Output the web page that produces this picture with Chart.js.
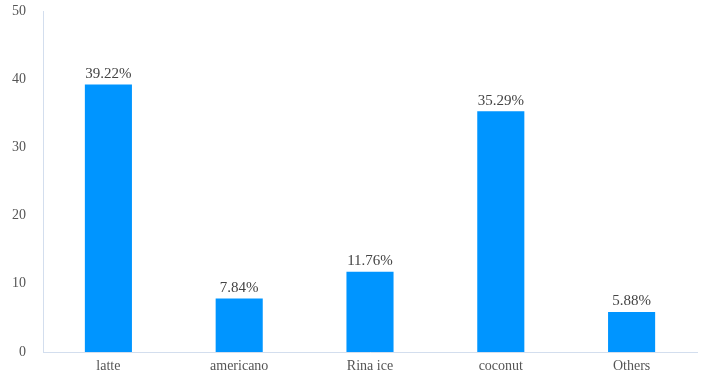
<!DOCTYPE html>
<html>
<head>
<meta charset="utf-8">
<script src="https://cdn.jsdelivr.net/npm/chart.js@4/dist/chart.umd.min.js"></script>
<style>
  html, body { margin: 0; padding: 0; background: #fff; }
  #wrap { width: 710px; height: 387px; }
</style>
</head>
<body>
<div id="wrap"><canvas id="chart"></canvas></div>
<script>
const categories = ['latte', 'americano', 'Rina ice', 'coconut', 'Others'];
const values = [39.22, 7.84, 11.76, 35.29, 5.88];
const valueLabels = ['39.22%', '7.84%', '11.76%', '35.29%', '5.88%'];
const yTicks = [0, 10, 20, 30, 40, 50];

const FONT = "'Liberation Serif', 'Times New Roman', serif";

// draw the percentage above each bar
const barLabels = {
  id: 'barLabels',
  afterDatasetsDraw(chart) {
    const ctx = chart.ctx;
    const meta = chart.getDatasetMeta(0);
    ctx.save();
    ctx.font = '15px ' + FONT;
    ctx.fillStyle = '#444';
    ctx.textAlign = 'center';
    ctx.textBaseline = 'bottom';
    meta.data.forEach((bar, i) => {
      ctx.fillText(valueLabels[i], bar.x, bar.y - 3);
    });
    ctx.restore();
  }
};

new Chart(document.getElementById('chart').getContext('2d'), {
  type: 'bar',
  data: {
    labels: categories,
    datasets: [{
      data: values,
      backgroundColor: '#0095ff',
      barPercentage: 0.36,
      categoryPercentage: 1
    }]
  },
  options: {
    responsive: true,
    maintainAspectRatio: false,
    animation: false,
    layout: { padding: { top: 11, right: 13, left: 0, bottom: 0 } },
    plugins: { legend: { display: false }, tooltip: { enabled: false } },
    scales: {
      x: {
        grid: { display: false, drawTicks: false },
        border: { display: true, color: '#d3deee', width: 1 },
        ticks: { color: '#555', font: { family: FONT, size: 14 }, padding: 6 },
        afterFit: s => { s.height = 35; }
      },
      y: {
        min: 0,
        max: 50,
        afterBuildTicks: s => { s.ticks = yTicks.map(v => ({ value: v })); },
        grid: { display: false, drawTicks: false },
        border: { display: true, color: '#d3deee', width: 1 },
        ticks: { color: '#555', font: { family: FONT, size: 14 }, padding: 17 },
        afterFit: s => { s.width = 43; s.paddingTop = 0; s.paddingBottom = 0; }
      }
    }
  },
  plugins: [barLabels]
});
</script>
</body>
</html>
